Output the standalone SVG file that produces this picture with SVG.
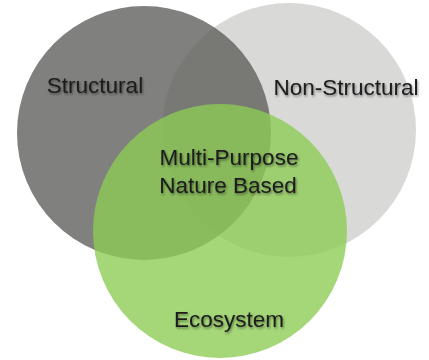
<svg xmlns="http://www.w3.org/2000/svg" width="429" height="360" viewBox="0 0 429 360">
  <defs>
    <filter id="shadow" x="-10%" y="-30%" width="120%" height="160%">
      <feDropShadow dx="1" dy="1.5" stdDeviation="1.2" flood-color="#000" flood-opacity="0.45"/>
    </filter>
  </defs>
  <style>
    .lbl { font-family: "Liberation Sans", Arial, sans-serif; font-size: 22.5px; fill: #1c1c1c; filter: url(#shadow); }
  </style>
  <rect width="429" height="360" fill="#ffffff"/>
  <g id="structural">
    <circle cx="144" cy="133" r="127" fill="#80807e"/>
  </g>
  <g id="non-structural">
    <circle cx="289" cy="130" r="127" fill="#5f5f5d" fill-opacity="0.24"/>
  </g>
  <g id="ecosystem">
    <circle cx="220" cy="231" r="127" fill="#8dcb54" fill-opacity="0.79"/>
  </g>
  <g id="labels">
    <text class="lbl" x="95" y="93" text-anchor="middle">Structural</text>
    <text class="lbl" x="346" y="95" text-anchor="middle">Non-Structural</text>
    <text class="lbl" x="229" y="165" text-anchor="middle">Multi-Purpose</text>
    <text class="lbl" x="228" y="193" text-anchor="middle">Nature Based</text>
    <text class="lbl" x="229" y="327" text-anchor="middle">Ecosystem</text>
  </g>
</svg>
